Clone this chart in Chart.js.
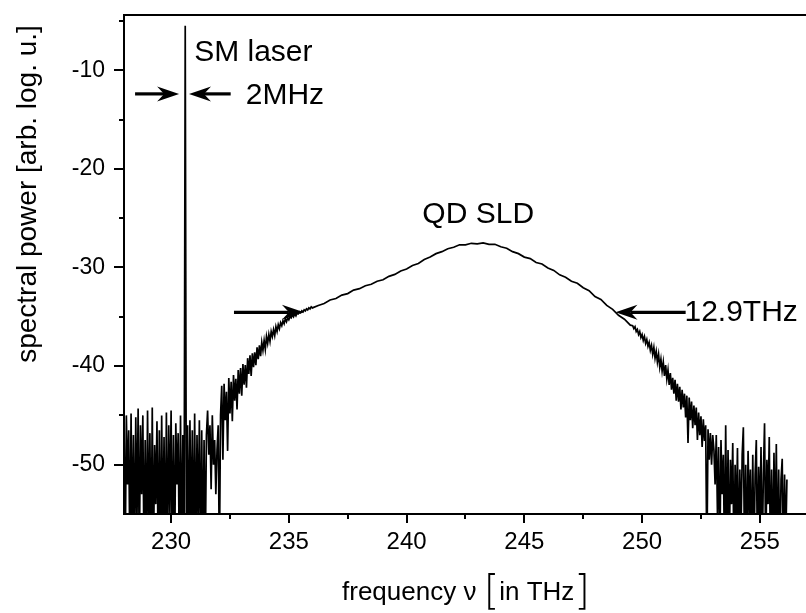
<!DOCTYPE html>
<html>
<head>
<meta charset="utf-8">
<script src="https://cdn.jsdelivr.net/npm/chart.js@4"></script>
<style>
  html, body { margin: 0; padding: 0; background: #fff; overflow: hidden; }
  #wrap { width: 814px; height: 613px; }
</style>
</head>
<body>
<div id="wrap"><canvas id="chart" width="814" height="613"></canvas></div>
<script>
// spectrum: frequency in THz, power in arb. log. units
// each piece is sampled on its own even frequency step

// noise floor left of the SLD, SM laser line sits at 230.6 THz
const lowFloorStart = 228.0;
const lowFloorStep = 0.05;
const lowFloorPower = [
  -45.5, -60, -45, -52, -46.5, -60, -44.8, -58, -47, -60,
  -45.2, -56, -44.3, -60, -46, -53, -45, -60, -47.5, -60,
  -44.5, -57, -46.8, -60, -44.2, -60, -48, -54, -45.6, -60,
  -46.5, -60, -45, -58, -47.2, -60, -44.7, -60, -46, -55,
  -44.5, -60, -47, -60, -45.8, -52, -46.8, -60, -45, -60,
  -47, -60, -5.5, -60, -46, -60, -45.5, -58, -46.5, -60,
  -44.8, -60, -47, -56, -45.5, -60, -46.5, -60, -47.5, -60,
  -47, -44.5, -49, -46, -52.5, -45, -50, -47.5, -53, -48.5,
  -46, -60
];

// rising edge of the QD SLD
const riseStart = 232.1;
const riseStep = 0.05;
const risePower = [
  -45.0, -42.0, -49.5, -41.8, -45.5, -42.6, -48.6, -41.2, -44.8, -41.6,
  -45.6, -40.9, -43.5, -41.3, -44.4, -40.4, -42.8, -40.2, -43.0, -39.8,
  -41.9, -39.9, -42.2, -39.2, -40.8, -38.9, -41.0, -38.7, -40.1, -38.6,
  -39.9, -38.1, -39.3, -37.9, -39.0, -37.6, -38.4, -37.4, -38.3, -37.0,
  -37.7, -36.8, -37.5, -36.5, -37.0, -36.3, -36.9, -36.0, -36.5, -35.8,
  -36.2, -35.6, -35.9, -35.4, -35.7, -35.2, -35.5, -35.1, -35.3, -35.0,
  -35.1, -34.8, -35.0, -34.7, -34.9, -34.6, -34.7, -34.5, -34.6, -34.4,
  -34.5, -34.3, -34.4, -34.2, -34.3, -34.1, -34.2, -34.0, -34.1
];

// smooth top of the SLD spectrum
const domeStart = 236.25;
const domeStep = 0.25;
const domePower = [
  -33.85, -33.65, -33.3, -33.15, -32.8, -32.65, -32.3, -32.15, -31.85, -31.7,
  -31.4, -31.25, -30.9, -30.7, -30.35, -30.15, -29.8, -29.6, -29.2, -28.95,
  -28.6, -28.4, -28.1, -27.95, -27.7, -27.7, -27.55, -27.6, -27.5, -27.65,
  -27.65, -27.9, -28.05, -28.4, -28.6, -28.95, -29.1, -29.5, -29.65, -30.05,
  -30.3, -30.75, -31.0, -31.4, -31.6, -32.05, -32.35, -32.95, -33.25, -33.85,
  -34.25, -34.85, -35.25, -35.85
];

// falling edge of the QD SLD
const fallStart = 249.6;
const fallStep = 0.05;
const fallPower = [
  -35.9, -36.2, -36.0, -36.5, -36.3, -36.8, -36.5, -37.1, -36.8, -37.4,
  -37.0, -37.7, -37.3, -38.0, -37.6, -38.4, -37.9, -38.8, -38.1, -39.2,
  -38.5, -39.6, -38.8, -40.1, -39.3, -40.5, -39.6, -41.0, -39.9, -41.3,
  -40.4, -41.9, -40.7, -42.4, -41.2, -42.8, -41.4, -43.5, -41.8, -43.6,
  -42.1, -44.4, -42.4, -44.2, -42.8, -45.2, -43.0, -47.8, -43.2, -45.5,
  -43.6, -46.3, -44.0, -46.0, -44.2, -47.5, -44.7, -47.0, -45.1, -48.2,
  -45.4, -47.6, -46.0, -60, -46.4, -49.5, -46.8, -50.0, -47.0
];

// noise floor right of the SLD
const highFloorStart = 253.05;
const highFloorStep = 0.05;
const highFloorPower = [
  -48.5, -52, -47, -55, -48.2, -60, -47.5, -53, -49, -60,
  -46, -58, -48.5, -60, -49.5, -54, -47.8, -60, -50, -56,
  -48.3, -60, -50.5, -57, -49, -46.2, -60, -50, -60, -48.6,
  -55, -50.5, -60, -49, -60, -51, -47.5, -60, -50.2, -56,
  -48.2, -60, -51, -45.8, -60, -49.5, -54, -47.2, -60, -50.5,
  -60, -48.8, -57, -47.9, -60, -50.5, -60, -51.5, -49.4, -60,
  -51, -58, -51.5
];

const xLabel = 'frequency \u03bd';
const xUnit = 'in THz';
const yLabel = 'spectral power [arb. log. u.]';
const laserLabel = 'SM laser';
const laserWidth = '2MHz';
const sldLabel = 'QD SLD';
const sldWidth = '12.9THz';

const FONT = '"Liberation Sans", Arial, Helvetica, sans-serif';

function piece(start, step, values) {
  return values.map((v, i) => ({ x: +(start + i * step).toFixed(3), y: v }));
}

const spectrum = [].concat(
  piece(lowFloorStart, lowFloorStep, lowFloorPower),
  piece(riseStart, riseStep, risePower),
  piece(domeStart, domeStep, domePower),
  piece(fallStart, fallStep, fallPower),
  piece(highFloorStart, highFloorStep, highFloorPower)
);

function onStep(v, step) {
  return Math.abs(v / step - Math.round(v / step)) < 1e-6;
}

function arrow(ctx, x1, y1, x2, y2) {
  // tail (x1,y1) -> tip (x2,y2), origin style notched head
  const a = Math.atan2(y2 - y1, x2 - x1);
  const len = 22, half = 7.5, notch = 15;
  ctx.save();
  ctx.translate(x2, y2);
  ctx.rotate(a);
  const L = Math.hypot(x2 - x1, y2 - y1);
  ctx.lineWidth = 3.2;
  ctx.beginPath();
  ctx.moveTo(-L, 0);
  ctx.lineTo(-notch, 0);
  ctx.stroke();
  ctx.beginPath();
  ctx.moveTo(0, 0);
  ctx.lineTo(-len, -half);
  ctx.lineTo(-notch, 0);
  ctx.lineTo(-len, half);
  ctx.closePath();
  ctx.fill();
  ctx.restore();
}

const decorations = {
  id: 'decorations',
  afterDraw(chart) {
    const { ctx, chartArea: area, scales: { x, y } } = chart;
    ctx.save();
    ctx.strokeStyle = '#000';
    ctx.fillStyle = '#000';

    // frame (right side is off the page)
    ctx.lineWidth = 2;
    ctx.beginPath();
    ctx.moveTo(area.right, area.top);
    ctx.lineTo(area.left, area.top);
    ctx.lineTo(area.left, area.bottom);
    ctx.lineTo(area.right, area.bottom);
    ctx.stroke();

    // outward tick marks, long on labelled values
    ctx.lineWidth = 2;
    x.ticks.forEach(t => {
      if (!onStep(t.value, 2.5)) return;
      const px = Math.round(x.getPixelForValue(t.value));
      const len = onStep(t.value, 5) ? 9 : 5;
      ctx.beginPath();
      ctx.moveTo(px, area.bottom);
      ctx.lineTo(px, area.bottom + len);
      ctx.stroke();
    });
    y.ticks.forEach(t => {
      if (!onStep(t.value, 5) || t.value < y.min + 0.5) return;
      const py = Math.round(y.getPixelForValue(t.value));
      const len = onStep(t.value, 10) ? 10 : 5;
      ctx.beginPath();
      ctx.moveTo(area.left, py);
      ctx.lineTo(area.left - len, py);
      ctx.stroke();
    });

    // annotations
    ctx.font = '30px ' + FONT;
    ctx.textAlign = 'left';
    ctx.textBaseline = 'alphabetic';
    ctx.fillText(laserLabel, x.getPixelForValue(230.98), y.getPixelForValue(-9.1));
    ctx.fillText(laserWidth, x.getPixelForValue(233.17), y.getPixelForValue(-13.4));
    ctx.fillText(sldLabel, x.getPixelForValue(240.67), y.getPixelForValue(-25.5));
    ctx.fillText(sldWidth, x.getPixelForValue(251.8), y.getPixelForValue(-35.45));

    const ay = y.getPixelForValue(-12.4);
    arrow(ctx, x.getPixelForValue(228.47), ay, x.getPixelForValue(230.34), ay);
    arrow(ctx, x.getPixelForValue(232.53), ay, x.getPixelForValue(230.76), ay);
    const fy = y.getPixelForValue(-34.55);
    arrow(ctx, x.getPixelForValue(232.67), fy, x.getPixelForValue(235.64), fy);
    arrow(ctx, x.getPixelForValue(251.85), fy, x.getPixelForValue(248.87), fy);

    // y title
    ctx.save();
    ctx.translate(28, 194);
    ctx.rotate(-Math.PI / 2);
    ctx.font = '28px ' + FONT;
    ctx.textAlign = 'center';
    ctx.textBaseline = 'middle';
    ctx.fillText(yLabel, 0, 0);
    ctx.restore();

    // x title with tall brackets
    const small = '26px ' + FONT;
    const big = '300 40px "DejaVu Sans", ' + FONT;
    ctx.textAlign = 'left';
    ctx.textBaseline = 'alphabetic';
    ctx.font = small;
    const w1 = ctx.measureText(xLabel + ' ').width;
    const w3 = ctx.measureText(xUnit).width;
    ctx.font = big;
    const wb = ctx.measureText('[').width;
    const total = w1 + wb + w3 + wb;
    let cx = 466 - total / 2;
    const base = 600;
    ctx.font = small;
    ctx.fillText(xLabel + ' ', cx, base);
    cx += w1;
    ctx.font = big;
    ctx.fillText('[', cx, base + 4);
    cx += wb;
    ctx.font = small;
    ctx.fillText(xUnit, cx, base);
    cx += w3;
    ctx.font = big;
    ctx.fillText(']', cx, base + 4);

    ctx.restore();
  }
};

new Chart(document.getElementById('chart'), {
  type: 'line',
  data: {
    datasets: [{
      data: spectrum,
      borderColor: '#000',
      borderWidth: 1.7,
      pointRadius: 0,
      tension: 0,
      fill: false
    }]
  },
  options: {
    responsive: false,
    animation: false,
    layout: { padding: { top: 15, left: 0, right: 0, bottom: 0 } },
    plugins: { legend: { display: false }, tooltip: { enabled: false } },
    scales: {
      x: {
        type: 'linear',
        min: 228,
        max: 257.3,
        grid: { display: false, drawTicks: false },
        border: { display: false },
        ticks: {
          stepSize: 2.5,
          includeBounds: false,
          autoSkip: false,
          maxRotation: 0,
          padding: 14,
          color: '#000',
          font: { size: 24, family: FONT },
          callback: v => onStep(v, 5) ? v : ''
        },
        afterFit: s => { s.height = 99; s.paddingLeft = 0; s.paddingRight = 0; }
      },
      y: {
        type: 'linear',
        min: -55,
        max: -4.4,
        grid: { display: false, drawTicks: false },
        border: { display: false },
        ticks: {
          stepSize: 5,
          includeBounds: false,
          autoSkip: false,
          padding: 19,
          color: '#000',
          font: { size: 23, family: FONT },
          callback: v => onStep(v, 10) ? v : ''
        },
        afterFit: s => { s.width = 124; s.paddingTop = 0; s.paddingBottom = 0; }
      }
    }
  },
  plugins: [decorations]
});
</script>
</body>
</html>
